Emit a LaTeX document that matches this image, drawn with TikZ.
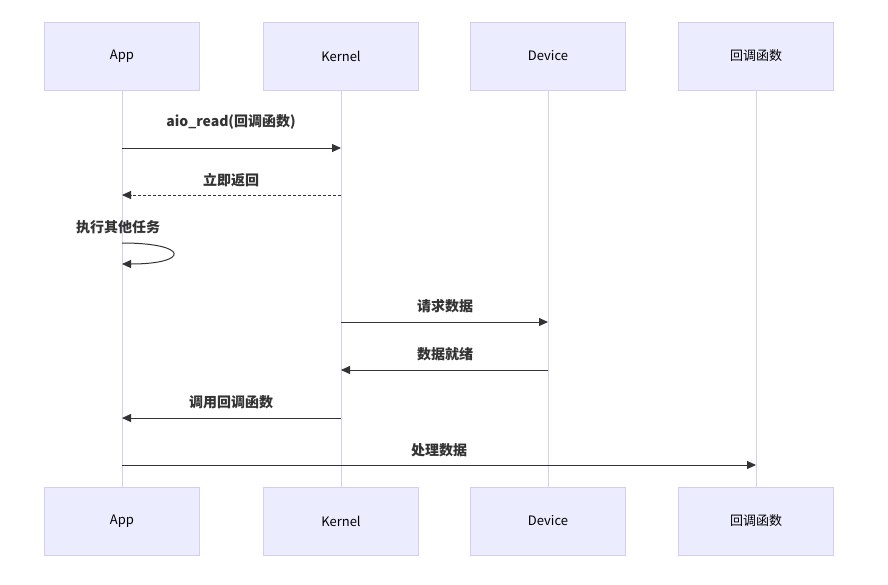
\documentclass[tikz,border=0pt]{standalone}
\usepackage{fontspec}
\setmainfont{Noto Sans CJK SC}
\usetikzlibrary{arrows.meta}
\definecolor{actfill}{HTML}{ECECFF}
\definecolor{actline}{HTML}{D7CCF3}
\definecolor{msg}{HTML}{333333}
\tikzset{
 actor/.style={draw=actline,fill=actfill,minimum width=155pt,minimum height=68pt,font=\fontsize{13}{15}\selectfont,inner sep=0pt},
 life/.style={draw=actline,line width=1pt},
 msgline/.style={draw=msg,line width=1pt,-{Triangle[length=9pt,width=8pt]}},
 lbl/.style={font=\fontsize{14}{16}\selectfont\bfseries,text=msg,inner sep=0pt}
}
\begin{document}
\begin{tikzpicture}[x=1pt,y=-1pt]
\useasboundingbox[fill=white] (0,0) rectangle (888,584);
\foreach \n/\x/\t in {a/122/App,k/341/Kernel,d/548/Device,c/756/回调函数}{
 \node[actor] (\n t) at (\x,56) {\t};
 \node[actor] (\n b) at (\x,521) {\t};
 \draw[life] (\n t.south) -- (\n b.north);
}
\coordinate (a1) at (122,148); \coordinate (k1) at (341,148);
\coordinate (a2) at (122,195); \coordinate (k2) at (341,195);
\coordinate (a3) at (122,243); \coordinate (a4) at (122,264);
\coordinate (k4) at (341,322); \coordinate (d4) at (548,322);
\coordinate (k5) at (341,370); \coordinate (d5) at (548,370);
\coordinate (k6) at (341,418); \coordinate (a6) at (122,418);
\coordinate (a7) at (122,465); \coordinate (c7) at (756,465);
\draw[msgline] (a1) -- (k1);
\node[lbl] (l1) at (231,122) {aio\_read(回调函数)};
\draw[msgline,dashed,dash pattern=on 3pt off 2pt] (k2) -- (a2);
\node[lbl] (l2) at (231,180) {立即返回};
\draw[msgline] (a3) .. controls (190,243) and (190,264) .. (a4);
\node[lbl] (l3) at (118,227) {执行其他任务};
\draw[msgline] (k4) -- (d4);
\node[lbl] (l4) at (445,306) {请求数据};
\draw[msgline] (d5) -- (k5);
\node[lbl] (l5) at (445,354) {数据就绪};
\draw[msgline] (k6) -- (a6);
\node[lbl] (l6) at (231,402) {调用回调函数};
\draw[msgline] (a7) -- (c7);
\node[lbl] (l7) at (439,450) {处理数据};
\end{tikzpicture}
\end{document}
